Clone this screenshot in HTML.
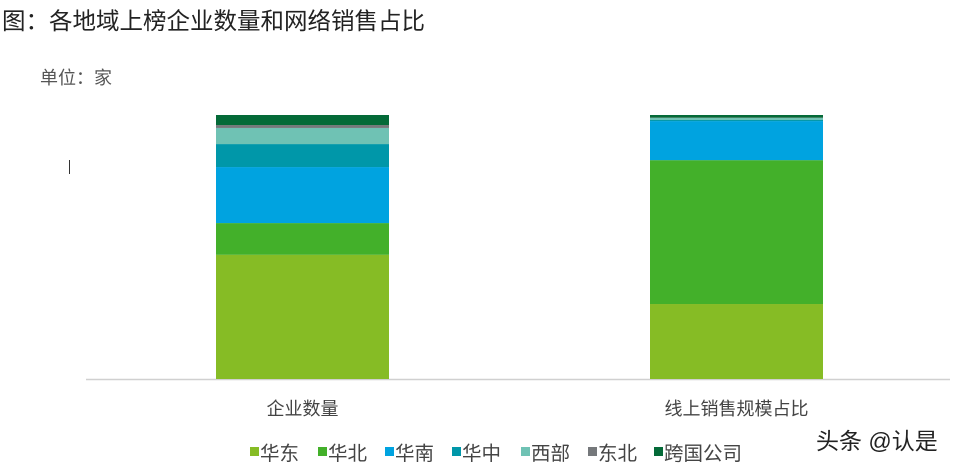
<!DOCTYPE html>
<html><head><meta charset="utf-8"><style>
body{margin:0;background:#fff;width:957px;height:465px;overflow:hidden;font-family:"Liberation Sans","Noto Sans CJK SC",sans-serif}
.t{position:absolute;white-space:nowrap}
</style></head><body>
<div class="t" style="left:2px;top:2px;font-size:23.5px;color:#222">图：各地域上榜企业数量和网络销售占比</div>
<div class="t" style="left:40px;top:64px;font-size:18px;color:#555">单位：家</div>
<div class="t" style="left:816px;top:422px;font-size:23px;color:#222">头条 @认是</div>
<svg id="c" width="957" height="465" style="position:absolute;left:0;top:0"></svg>
<script>
const categories=["企业数量","线上销售规模占比"];
const series=["华东","华北","华南","华中","西部","东北","跨国公司"];
const colors=["#86bc25","#43b02a","#00a3e0","#0097a9","#6fc2b4","#75787b","#046a38"];
const values=[[47,28.4],[12,54.5],[21.2,14.8],[8.7,0.4],[6.1,0.8],[1.1,0.1],[3.8,1.0]];
const svg=document.getElementById('c');const NS='http://www.w3.org/2000/svg';
const y0=379,y1=115,barW=173,centers=[302.5,736.5];
function mk(t,a){const e=document.createElementNS(NS,t);for(const k in a)e.setAttribute(k,a[k]);svg.appendChild(e);return e;}
const ax=mk('line',{x1:86,x2:950,y1:379.5,y2:379.5,stroke:'#d0d0d0','stroke-width':1.5});


categories.forEach((c,j)=>{
 let tot=0;series.forEach((s,i)=>tot+=values[i][j]);
 let acc=0;
 series.forEach((s,i)=>{
  const v=values[i][j];const yb=y0-(acc/tot)*(y0-y1);acc+=v;const yt=y0-(acc/tot)*(y0-y1);
  const r=mk('rect',{x:centers[j]-barW/2,y:yt,width:barW,height:Math.max(0,yb-yt),fill:colors[i]});
  
  
 });
 const tx=mk('text',{x:centers[j],y:415,'text-anchor':'middle','font-size':18,fill:'#444'});
 tx.textContent=c;
 
 
});
const lx=[250,318,385,452,521,588,654];
series.forEach((s,i)=>{
 const g=mk('g',{});
 
 
 const r=document.createElementNS(NS,'rect');r.setAttribute('x',lx[i]);r.setAttribute('y',447);r.setAttribute('width',9);r.setAttribute('height',9);r.setAttribute('fill',colors[i]);g.appendChild(r);
 const t=document.createElementNS(NS,'text');t.setAttribute('x',lx[i]+10);t.setAttribute('y',460);t.setAttribute('font-size',19.5);t.setAttribute('fill','#444');t.textContent=s;g.appendChild(t);
});
const m=mk('line',{x1:69.5,x2:69.5,y1:160,y2:174,stroke:'#333','stroke-width':1});


</script>
</body></html>
